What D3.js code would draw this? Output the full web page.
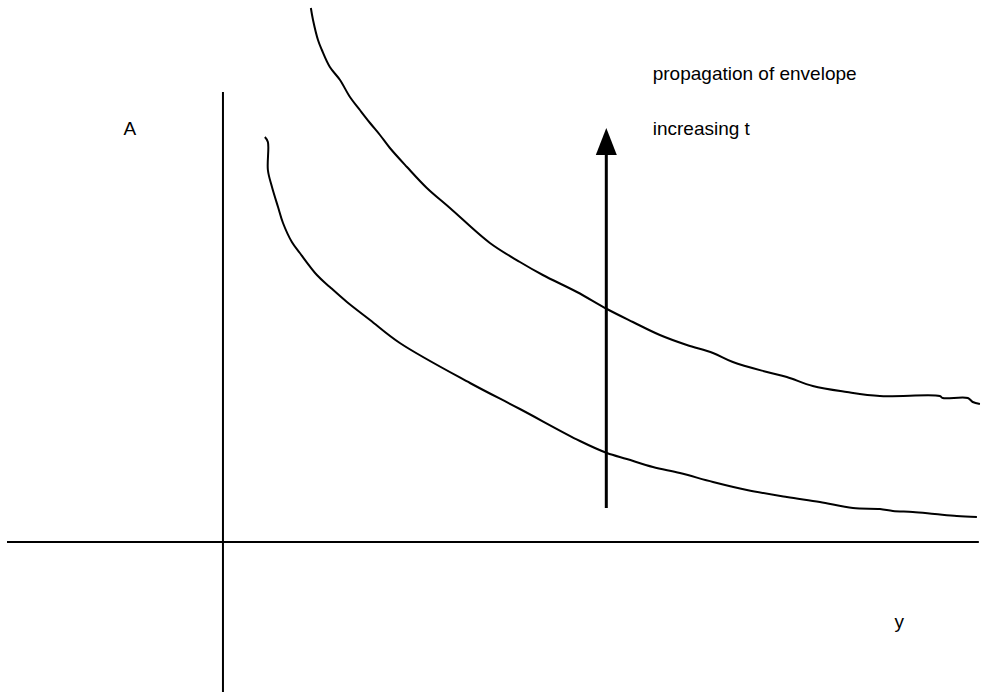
<!DOCTYPE html>
<html>
<head>
<meta charset="utf-8">
<script src="https://cdn.jsdelivr.net/npm/d3@7"></script>
<style>
  body { margin: 0; background: #fff; }
  text { font-family: "Liberation Sans", Arial, sans-serif; font-size: 19px; fill: #000; }
</style>
</head>
<body>
<script>
//////////////// Variables ////////////////////
var width = 981, height = 698;

//////////////// Datas ////////////////////
// envelope at the later time (upper curve)
var upperY = [0.407, 0.417, 0.440, 0.458, 0.495, 0.542, 0.588, 0.634, 0.681, 0.727, 0.773, 0.852, 0.944, 1.051,
  1.236, 1.375, 1.481, 1.639, 1.778, 1.898, 2.023, 2.148, 2.269, 2.361, 2.519, 2.611, 2.731, 2.889, 3.042,
  3.319, 3.333, 3.449, 3.472, 3.505];
var upperA = [5.34, 5.22, 5.02, 4.92, 4.75, 4.62, 4.45, 4.32, 4.19, 4.07, 3.94, 3.75, 3.54, 3.34,
  2.99, 2.80, 2.67, 2.50, 2.33, 2.20, 2.07, 1.97, 1.89, 1.80, 1.70, 1.65, 1.56, 1.50, 1.46,
  1.46, 1.44, 1.44, 1.40, 1.38];

// envelope at the earlier time (lower curve)
var lowerY = [0.194, 0.208, 0.208, 0.227, 0.255, 0.278, 0.319, 0.356, 0.435, 0.495, 0.574, 0.681, 0.819, 1.144,
  1.375, 1.653, 1.778, 1.870, 1.991, 2.116, 2.269, 2.426, 2.611, 2.764, 2.917, 3.042, 3.102, 3.194, 3.296,
  3.398, 3.491];
var lowerA = [4.05, 4.00, 3.72, 3.55, 3.35, 3.19, 3.00, 2.89, 2.67, 2.55, 2.40, 2.22, 1.99, 1.59,
  1.33, 1.01, 0.89, 0.83, 0.75, 0.69, 0.60, 0.52, 0.45, 0.40, 0.34, 0.33, 0.31, 0.30, 0.28,
  0.26, 0.25];

// arrow "increasing t": position on y, from A to A
var arrowY = 1.775, arrowFrom = 0.34, arrowTo = 4.14;

var labels = [
  {text: "propagation of envelope", y: 1.99, a: 4.62},
  {text: "increasing t", y: 1.99, a: 4.07},
  {text: "A", y: -0.46, a: 4.07},
  {text: "y", y: 3.11, a: -0.86}
];

//////////////// SVG ////////////////////
var svg = d3.select("body")
  .append("svg")
  .attr("width", width)
  .attr("height", height);

///////////////////////// Scaling /////////////////////////
var xScale = d3.scaleLinear().domain([-1, 3.51]).range([7, 981]);
var yScale = d3.scaleLinear().domain([0, 5.42]).range([542, 0]);

///////////////////////// Axen /////////////////////////
svg.append("line")
  .attr("x1", xScale(-1)).attr("x2", xScale(3.5))
  .attr("y1", yScale(0)).attr("y2", yScale(0))
  .attr("stroke", "#000").attr("stroke-width", 2);
svg.append("line")
  .attr("x1", xScale(0)).attr("x2", xScale(0))
  .attr("y1", yScale(4.5)).attr("y2", yScale(-1.5))
  .attr("stroke", "#000").attr("stroke-width", 2);

///////////////// Curves /////////////////
var line = d3.line()
  .curve(d3.curveCatmullRom.alpha(0.5))
  .x(function(d) { return xScale(d[0]); })
  .y(function(d) { return yScale(d[1]); });

[[upperY, upperA], [lowerY, lowerA]].forEach(function(c) {
  svg.append("path")
    .datum(d3.zip(c[0], c[1]))
    .attr("fill", "none")
    .attr("stroke", "#000")
    .attr("stroke-width", 2)
    .attr("d", line);
});

///////////////// Arrow /////////////////
var ax = xScale(arrowY), tip = yScale(arrowTo);
svg.append("line")
  .attr("x1", ax).attr("x2", ax)
  .attr("y1", yScale(arrowFrom)).attr("y2", tip + 20)
  .attr("stroke", "#000").attr("stroke-width", 3);
svg.append("path")
  .attr("d", "M" + ax + "," + tip + "L" + (ax + 10.5) + "," + (tip + 27) + "L" + (ax - 10.5) + "," + (tip + 27) + "Z")
  .attr("fill", "#000");

//////////////// Beschriftung ///////////////
svg.selectAll("text.label")
  .data(labels)
  .enter()
  .append("text")
  .attr("class", "label")
  .attr("x", function(d) { return xScale(d.y); })
  .attr("y", function(d) { return yScale(d.a); })
  .text(function(d) { return d.text; });
</script>
</body>
</html>
